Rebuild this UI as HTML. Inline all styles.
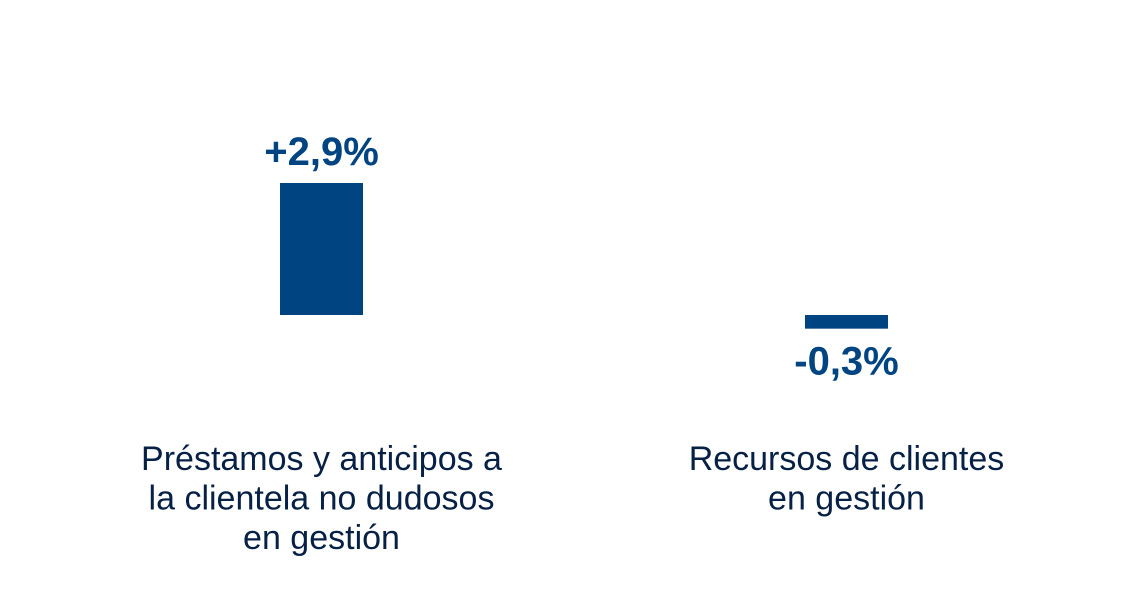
<!DOCTYPE html>
<html><head><meta charset="utf-8"><style>
html,body{margin:0;padding:0;background:#fff;}
svg{display:block;font-family:"Liberation Sans",sans-serif;}
</style></head><body>
<svg id="chart" width="1147" height="594" viewBox="0 0 1147 594" xmlns="http://www.w3.org/2000/svg"></svg>
<script>
const categories = ["Préstamos y anticipos a|la clientela no dudosos|en gestión", "Recursos de clientes|en gestión"];
const values = [2.9, -0.3];
const valueLabels = ["+2,9%", "-0,3%"];

const svg = document.getElementById('chart');
const NS = 'http://www.w3.org/2000/svg';
const baseY = 315;
const pxPerUnit = 132 / 2.9;
function yScale(v){ return baseY - v * pxPerUnit; }
const centers = [321.5, 846.5];
function xScale(i){ return centers[i]; }
const barW = 83;

function mk(tag, attrs){ const e = document.createElementNS(NS, tag); for (const k in attrs) e.setAttribute(k, attrs[k]); svg.appendChild(e); return e; }

values.forEach((v, i) => {
  const y0 = Math.min(yScale(v), baseY), y1 = Math.max(yScale(v), baseY);
  let h = y1 - y0;
  const r = mk('rect', {x: xScale(i) - barW/2, y: y0, width: barW, height: h, fill: '#004481'});
  
  
  const ly = v >= 0 ? y0 - 18 : y1 + 46;
  const t = mk('text', {x: xScale(i), y: ly, 'text-anchor': 'middle', 'font-size': 40, 'font-weight': 'bold', fill: '#004481'});
  t.textContent = valueLabels[i];
  
  
  const lines = categories[i].split('|');
  lines.forEach((ln, j) => {
    const c = mk('text', {x: xScale(i), y: 470 + j * 39.5, 'text-anchor': 'middle', 'font-size': 34, fill: '#072146'});
    c.textContent = ln;
    
    
  });
});
</script>
</body></html>
